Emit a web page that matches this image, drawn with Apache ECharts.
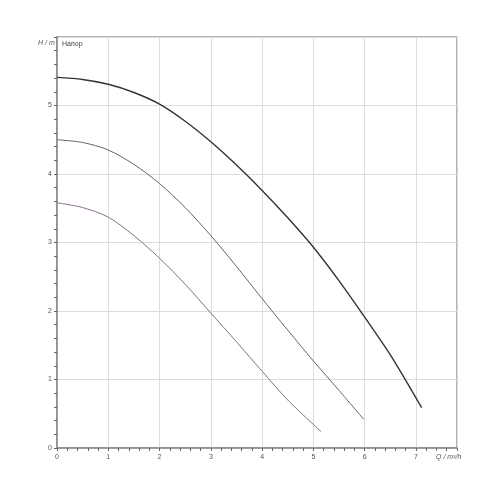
<!DOCTYPE html>
<html>
<head>
<meta charset="utf-8">
<script src="https://cdn.jsdelivr.net/npm/echarts@6/dist/echarts.min.js"></script>
<style>html,body{margin:0;padding:0;background:#fff;}#c{width:500px;height:500px;}</style>
</head>
<body>
<div id="c"></div>
<script>
const topQ = [0, 0.5, 1, 1.5, 2, 2.5, 3, 3.5, 4, 4.5, 5, 5.5, 6, 6.5, 7.11];
const topH = [5.41, 5.38, 5.31, 5.19, 5.02, 4.77, 4.47, 4.13, 3.76, 3.36, 2.93, 2.44, 1.91, 1.36, 0.59];
const midQ = [0, 0.5, 1, 1.5, 2, 2.5, 3, 3.5, 4, 4.5, 5, 5.5, 5.98];
const midH = [4.5, 4.46, 4.35, 4.14, 3.86, 3.51, 3.1, 2.65, 2.18, 1.72, 1.27, 0.84, 0.42];
const lowQ = [0, 0.5, 1, 1.5, 2, 2.5, 3, 3.5, 4, 4.5, 5.15];
const lowH = [3.58, 3.51, 3.37, 3.1, 2.77, 2.39, 1.97, 1.55, 1.12, 0.7, 0.24];
const xLabel = 'Q / m³/h';
const yLabel = 'H / m';
const curveTitle = 'Напор';

function pairs(q, h) { return q.map((v, i) => [v, h[i]]); }

const chart = echarts.init(document.getElementById('c'));
const lbl = { color: '#555', fontSize: 7, fontFamily: 'Liberation Sans, Arial, sans-serif' };
chart.setOption({
  animation: false,
  grid: { left: 57, right: 43, top: 37, bottom: 52, show: true, borderColor: '#999', borderWidth: 1.5, backgroundColor: '#fff' },
  xAxis: {
    type: 'value', min: 0, max: 7.8, interval: 1,
    axisLine: { onZero: false, lineStyle: { color: '#888', width: 1.5 } },
    axisTick: { length: 3, lineStyle: { color: '#666' } },
    minorTick: { show: true, splitNumber: 5, length: 3, lineStyle: { color: '#666' } },
    axisLabel: Object.assign({ showMaxLabel: false, margin: 6 }, lbl),
    splitLine: { show: true, lineStyle: { color: '#dcdcdc', width: 1 } }
  },
  yAxis: {
    type: 'value', min: 0, max: 6, interval: 1,
    axisLine: { show: true, onZero: false, lineStyle: { color: '#888', width: 1.5 } },
    axisTick: { show: true, length: 3, lineStyle: { color: '#666' } },
    minorTick: { show: true, splitNumber: 5, length: 3, lineStyle: { color: '#666' } },
    axisLabel: Object.assign({ showMaxLabel: false, margin: 5 }, lbl),
    splitLine: { show: true, lineStyle: { color: '#dcdcdc', width: 1 } }
  },
  graphic: [
    { type: 'text', left: 38, top: 40, style: { text: yLabel, fill: '#555', font: 'italic 7px Liberation Sans, Arial, sans-serif' } },
    { type: 'text', left: 62, top: 41, style: { text: curveTitle, fill: '#444', font: '7px Liberation Sans, Arial, sans-serif' } },
    { type: 'text', left: 436, top: 454, style: { text: xLabel, fill: '#555', font: 'italic 7px Liberation Sans, Arial, sans-serif' } }
  ],
  series: [
    { type: 'line', data: pairs(topQ, topH), smooth: 0.3, showSymbol: false, lineStyle: { color: '#333', width: 1.4 } },
    { type: 'line', data: pairs(midQ, midH), smooth: 0.3, showSymbol: false, lineStyle: { color: '#6b5f73', width: 1 } },
    { type: 'line', data: pairs(lowQ, lowH), smooth: 0.3, showSymbol: false, lineStyle: { color: '#8a6a8e', width: 1 } }
  ]
});
</script>
</body>
</html>
